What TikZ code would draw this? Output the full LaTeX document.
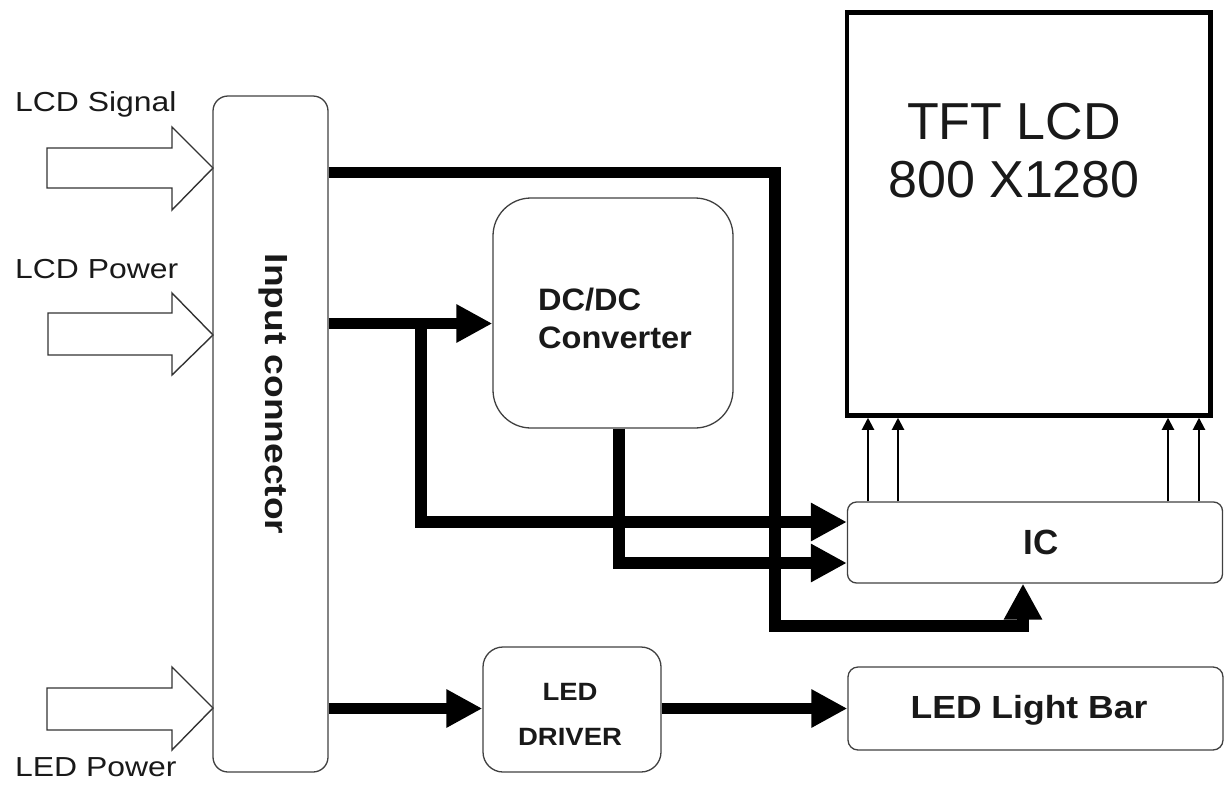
\documentclass[tikz,border=0pt]{standalone}
\usepackage{fontspec}
\setmainfont{Liberation Sans}
\usepackage{graphicx}
\usetikzlibrary{arrows.meta}
\begin{document}
\begin{tikzpicture}[x=1pt,y=-1pt,
  box/.style={draw=black!75, line width=1.3pt, inner sep=0pt},
  bus/.style={line width=11.5pt, line join=miter, line cap=butt},
  busarrow/.style={bus, -{Triangle[length=36pt,width=36pt]}},
  sigarrow/.style={line width=2pt, -{Triangle[length=12pt,width=12pt]}},
  hollow/.style={draw=black!80, line width=1.4pt, line join=miter, fill=white},
  lbl/.style={inner sep=0pt, text=black!90},
  sidelbl/.style={lbl, anchor=base west, font=\fontsize{27.5}{32}\selectfont},
]
\useasboundingbox (0,0) rectangle (1224,785);

% hollow input arrows
\draw[hollow] (47,148) -- (172,148) -- (172,127) -- (213,168) -- (172,210) -- (172,188) -- (47,188) -- cycle;
\draw[hollow] (48,313) -- (172,313) -- (172,293) -- (213,335) -- (172,375) -- (172,355) -- (48,355) -- cycle;
\draw[hollow] (47,688) -- (172,688) -- (172,667) -- (213,708) -- (172,750) -- (172,730) -- (47,730) -- cycle;

% labels
\node[sidelbl] (lsig) at (15,111) {\scalebox{1.16}[1]{LCD Signal}};
\node[sidelbl] (lpwr) at (15,278) {\scalebox{1.16}[1]{LCD Power}};
\node[sidelbl] (lled) at (15,776) {\scalebox{1.16}[1]{LED Power}};

% blocks
\node[box, rounded corners=15pt, minimum width=115pt, minimum height=676pt] (inconn) at (270.5,434) {};
\node[lbl, rotate=-90, font=\bfseries\fontsize{32}{36}\selectfont] (inconntext) at (273.5,394) {\scalebox{1.16}[1]{Input connector}};

\node[box, rounded corners=38pt, minimum width=240pt, minimum height=230pt] (dcdc) at (613,313) {};
\node[lbl, font=\bfseries\fontsize{31}{38}\selectfont, align=left] (dcdctext) at (615,318) {\scalebox{1.05}[1]{DC/DC}\\\scalebox{1.05}[1]{Converter}};

\node[draw=black, line width=4.5pt, inner sep=0pt, minimum width=363.5pt, minimum height=403pt] (tft) at (1028.75,214) {};
\node[lbl, font=\fontsize{52}{58}\selectfont, align=center] (tfttext) at (1014,150.5) {TFT LCD\\800 X1280};

\node[box, rounded corners=9pt, minimum width=375pt, minimum height=81pt] (ic) at (1035,542.5) {};
\node[lbl, font=\bfseries\fontsize{35}{40}\selectfont] (ictext) at (1041,542.5) {IC};

\node[box, rounded corners=10pt, minimum width=375pt, minimum height=83pt] (ledbar) at (1035.5,708.5) {};
\node[lbl, font=\bfseries\fontsize{32}{36}\selectfont] (ledbartext) at (1029,710) {\scalebox{1.11}[1]{LED Light Bar}};

\node[box, rounded corners=20pt, minimum width=178pt, minimum height=125pt] (leddrv) at (572,709.5) {};
\node[lbl, font=\bfseries\fontsize{25}{45}\selectfont, align=center] (leddrvtext) at (570,714) {\scalebox{1.1}[1]{LED}\\\scalebox{1.1}[1]{DRIVER}};

% helper coordinates
\coordinate (ysig) at (0,172.5);
\coordinate (xsig) at (775,0);
\coordinate (ybot) at (0,626);
\coordinate (xicin) at (1023,0);
\coordinate (ypwr) at (0,323.5);
\coordinate (xbr) at (421,0);
\coordinate (ybr) at (0,522);
\coordinate (xdc) at (619,0);
\coordinate (ydc) at (0,563);
\coordinate (yled) at (0,708.5);

% bus connectors
\draw[busarrow] (inconn.east |- ysig) -| (xsig |- ybot) -| (xicin |- ic.south);
\draw[busarrow] (inconn.east |- ypwr) -- (dcdc.west |- ypwr);
\draw[busarrow] (xbr |- ypwr) |- (ic.west |- ybr);
\draw[busarrow] (xdc |- dcdc.south) |- (ic.west |- ydc);
\draw[busarrow] (inconn.east |- yled) -- (leddrv.west |- yled);
\draw[busarrow] (leddrv.east |- yled) -- (ledbar.west |- yled);

% IC to TFT
\foreach \xx/\nm in {868/ta, 898/tb, 1168/tc, 1199/td} {
  \coordinate (\nm) at (\xx,0);
  \draw[sigarrow] (\nm |- ic.north) -- (\nm |- tft.south);
}
\end{tikzpicture}
\end{document}
